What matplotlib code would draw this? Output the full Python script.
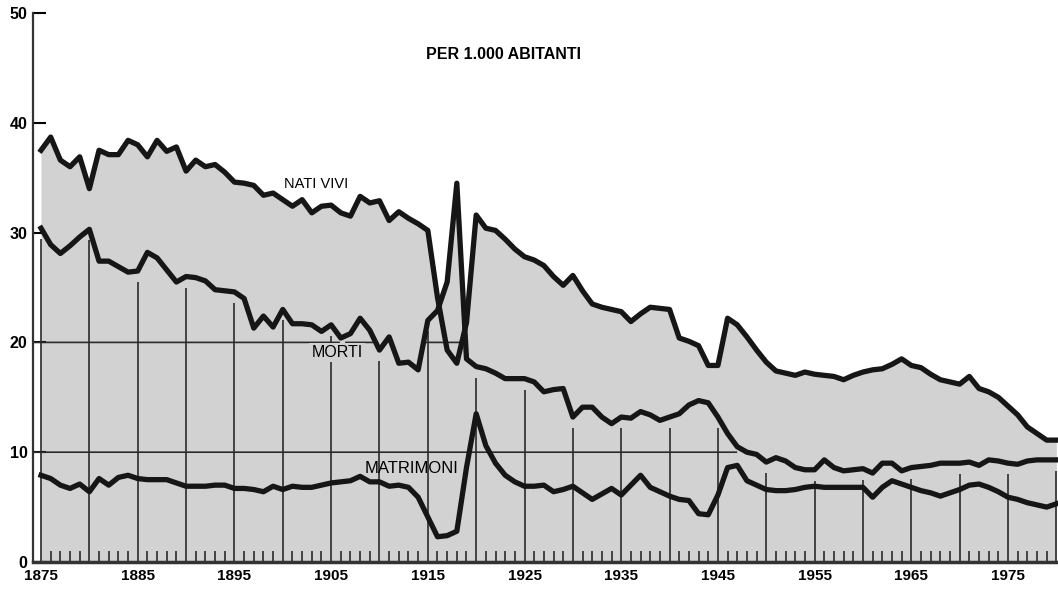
import numpy as np
import matplotlib
matplotlib.use('Agg')
import matplotlib.pyplot as plt

# tassi per 1.000 abitanti, 1875-1980
years = np.arange(1875, 1981)

nati_vivi = [37.5, 38.7, 36.6, 36.0, 36.9, 34.0, 37.5, 37.1, 37.1, 38.4,
             38.0, 36.9, 38.4, 37.4, 37.8, 35.6, 36.6, 36.0, 36.2, 35.5,
             34.6, 34.5, 34.3, 33.4, 33.6, 33.0, 32.4, 33.0, 31.8, 32.4,
             32.5, 31.8, 31.5, 33.3, 32.7, 32.9, 31.1, 31.9, 31.3, 30.8,
             30.2, 24.1, 19.3, 18.1, 21.8, 31.6, 30.4, 30.2, 29.4, 28.5,
             27.8, 27.5, 27.0, 26.0, 25.2, 26.1, 24.7, 23.5, 23.2, 23.0,
             22.8, 21.9, 22.6, 23.2, 23.1, 23.0, 20.4, 20.1, 19.7, 17.9,
             17.9, 22.2, 21.6, 20.5, 19.3, 18.2, 17.4, 17.2, 17.0, 17.3,
             17.1, 17.0, 16.9, 16.6, 17.0, 17.3, 17.5, 17.6, 18.0, 18.5,
             17.9, 17.7, 17.1, 16.6, 16.4, 16.2, 16.9, 15.8, 15.5, 15.0,
             14.2, 13.4, 12.3, 11.7, 11.1, 11.1]

morti = [30.4, 28.9, 28.1, 28.8, 29.6, 30.3, 27.4, 27.4, 26.9, 26.4,
         26.5, 28.2, 27.7, 26.6, 25.5, 26.0, 25.9, 25.6, 24.8, 24.7,
         24.6, 24.0, 21.3, 22.4, 21.4, 23.0, 21.7, 21.7, 21.6, 21.0,
         21.6, 20.4, 20.8, 22.2, 21.1, 19.3, 20.5, 18.1, 18.2, 17.5,
         22.0, 22.9, 25.5, 34.5, 18.5, 17.8, 17.6, 17.2, 16.7, 16.7,
         16.7, 16.4, 15.5, 15.7, 15.8, 13.2, 14.1, 14.1, 13.2, 12.6,
         13.2, 13.1, 13.7, 13.4, 12.9, 13.2, 13.5, 14.3, 14.7, 14.5,
         13.2, 11.7, 10.5, 10.0, 9.8, 9.1, 9.5, 9.2, 8.6, 8.4,
         8.4, 9.3, 8.6, 8.3, 8.4, 8.5, 8.1, 9.0, 9.0, 8.3,
         8.6, 8.7, 8.8, 9.0, 9.0, 9.0, 9.1, 8.8, 9.3, 9.2,
         9.0, 8.9, 9.2, 9.3, 9.3, 9.3]

matrimoni = [7.9, 7.6, 7.0, 6.7, 7.1, 6.4, 7.6, 7.0, 7.7, 7.9,
             7.6, 7.5, 7.5, 7.5, 7.2, 6.9, 6.9, 6.9, 7.0, 7.0,
             6.7, 6.7, 6.6, 6.4, 6.9, 6.6, 6.9, 6.8, 6.8, 7.0,
             7.2, 7.3, 7.4, 7.8, 7.3, 7.3, 6.9, 7.0, 6.8, 5.9,
             4.1, 2.3, 2.4, 2.8, 8.6, 13.5, 10.6, 9.0, 7.9, 7.3,
             6.9, 6.9, 7.0, 6.4, 6.6, 6.9, 6.3, 5.7, 6.2, 6.7,
             6.1, 7.0, 7.9, 6.8, 6.4, 6.0, 5.7, 5.6, 4.4, 4.3,
             6.1, 8.6, 8.8, 7.4, 7.0, 6.6, 6.5, 6.5, 6.6, 6.8,
             6.9, 6.8, 6.8, 6.8, 6.8, 6.8, 5.9, 6.8, 7.4, 7.1,
             6.8, 6.5, 6.3, 6.0, 6.3, 6.6, 7.0, 7.1, 6.8, 6.4,
             5.9, 5.7, 5.4, 5.2, 5.0, 5.3]

label_years = list(range(1875, 1976, 10))
y_ticks = [0, 10, 20, 30, 40, 50]

plt.rcParams['font.family'] = ['Liberation Sans', 'DejaVu Sans']

nati_vivi = np.array(nati_vivi)
morti = np.array(morti)
matrimoni = np.array(matrimoni)

fig = plt.figure(figsize=(10.58, 5.89), dpi=100)
ax = fig.add_axes([33 / 1058, 27 / 589, 1025 / 1058, 549 / 589])

GRAY = '#d2d2d2'
INK = '#161616'

ax.fill_between(years, 0, np.maximum(nati_vivi, morti), color=GRAY, lw=0, zorder=1)

# griglia disegnata solo sotto la curva dei morti
for yr in range(1875, 1981, 5):
    m = morti[yr - 1875]
    ax.vlines(yr, 0, m - 1.0, color='#2a2a2a', lw=1.2, zorder=2)

xd = np.linspace(1874.0, 1980.5, 3000)
md = np.interp(xd, years, morti)
for lvl in (10, 20):
    ax.plot(xd, np.where(md > lvl + 0.6, lvl, np.nan), color='#2a2a2a', lw=1.2, zorder=2)

ax.plot(years, nati_vivi, color=INK, lw=3.8, zorder=4)
ax.plot(years, morti, color=INK, lw=3.8, zorder=4)
ax.plot(years, matrimoni, color=INK, lw=3.8, zorder=4)

ax.set_xlim(1874.17, 1980.17)
ax.set_ylim(0, 50)

ax.set_xticks(label_years)
ax.set_xticklabels([str(y) for y in label_years])
ax.set_xticks([y for y in years if y % 5 != 0], minor=True)
ax.tick_params(axis='x', which='major', length=0, pad=5, labelsize=11)
ax.tick_params(axis='x', which='minor', direction='in', length=8, width=1.2, color='#2a2a2a')
ax.set_yticks(y_ticks)
ax.tick_params(axis='y', direction='in', length=9, width=1.5, labelsize=11.5, pad=4)
for t in ax.get_xticklabels() + ax.get_yticklabels():
    t.set_fontweight('bold')

for s in ('top', 'right'):
    ax.spines[s].set_visible(False)
ax.spines['left'].set_linewidth(1.6)
ax.spines['bottom'].set_linewidth(2.5)
ax.spines['left'].set_color('#333333')
ax.spines['bottom'].set_color('#333333')
ax.spines['left'].set_zorder(5)

ax.text(1922.8, 46.2, 'PER 1.000 ABITANTI', ha='center', va='center',
        fontsize=11.5, fontweight='bold', zorder=6)
ax.text(1903.4, 34.4, 'NATI VIVI', ha='center', va='center', fontsize=10.5, zorder=6)
ax.text(1905.6, 19.1, 'MORTI', ha='center', va='center', fontsize=11.5, zorder=6,
        bbox=dict(facecolor=GRAY, edgecolor='none', pad=1.5))
ax.text(1913.3, 8.5, 'MATRIMONI', ha='center', va='center', fontsize=12, zorder=6)

fig.savefig('out.png', dpi=100)
